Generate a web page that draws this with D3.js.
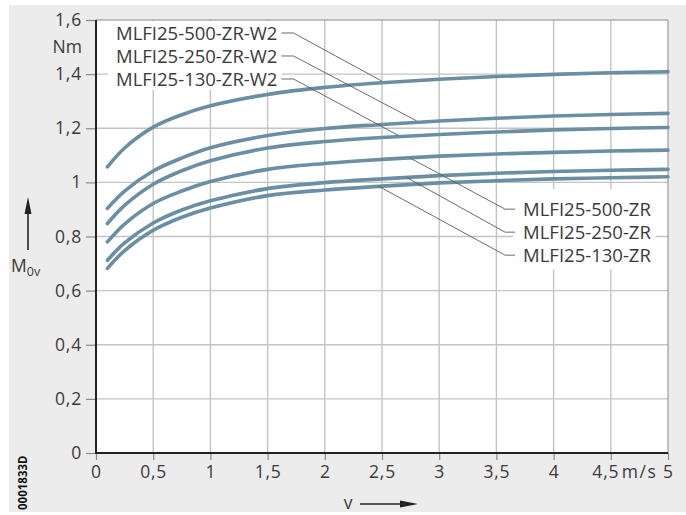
<!DOCTYPE html>
<html>
<head>
<meta charset="utf-8">
<script src="https://cdn.jsdelivr.net/npm/d3@7/dist/d3.min.js"></script>
<style>
  html, body { margin: 0; padding: 0; background: #ffffff; }
  svg { display: block; }
  text { font-family: "Open Sans", "Noto Sans", sans-serif; }
</style>
</head>
<body>
<svg id="chart" width="686" height="515"></svg>
<script>
// Speed values (m/s) at which each curve is sampled
const speeds = [0.1, 0.25, 0.5, 0.75, 1, 1.5, 2, 2.5, 3, 3.5, 4, 4.5, 5];

// No-load torque M0v (Nm) per drive variant
const m500W2 = [1.057, 1.127, 1.204, 1.250, 1.283, 1.325, 1.351, 1.368, 1.381, 1.391, 1.399, 1.405, 1.409];
const m250W2 = [0.904, 0.968, 1.042, 1.090, 1.128, 1.173, 1.199, 1.214, 1.227, 1.237, 1.245, 1.251, 1.255];
const m130W2 = [0.848, 0.915, 0.993, 1.043, 1.080, 1.127, 1.151, 1.166, 1.177, 1.186, 1.194, 1.199, 1.203];
const m500   = [0.780, 0.846, 0.922, 0.968, 1.003, 1.048, 1.070, 1.085, 1.097, 1.105, 1.111, 1.116, 1.119];
const m250   = [0.712, 0.776, 0.850, 0.898, 0.932, 0.977, 0.999, 1.013, 1.025, 1.034, 1.040, 1.045, 1.048];
const m130   = [0.682, 0.748, 0.823, 0.871, 0.905, 0.951, 0.972, 0.986, 0.998, 1.006, 1.013, 1.017, 1.021];

const seriesNames = ["MLFI25-500-ZR-W2", "MLFI25-250-ZR-W2", "MLFI25-130-ZR-W2",
                     "MLFI25-500-ZR", "MLFI25-250-ZR", "MLFI25-130-ZR"];
const seriesValues = [m500W2, m250W2, m130W2, m500, m250, m130];

// Axis ticks
const xTicks = [0, 0.5, 1, 1.5, 2, 2.5, 3, 3.5, 4, 4.5, 5];
const yTicks = [0, 0.2, 0.4, 0.6, 0.8, 1, 1.2, 1.4, 1.6];

// Label callouts: label anchor (v, M) and the point where the leader meets its curve
const upperLabelV = 0.175;
const upperLabelM = [1.552, 1.467, 1.382];
const upperTouch = [[2.50, 1.374], [2.80, 1.228], [2.64, 1.174]];
const lowerLabelV = 3.733;
const lowerLabelM = [0.901, 0.816, 0.731];
const lowerTouch = [[2.745, 1.090], [2.716, 1.018], [2.47, 0.986]];

const svg = d3.select("#chart");
const W = 686, H = 515;
const pLeft = 96, pRight = 668, pTop = 20, pBottom = 453;

const x = d3.scaleLinear().domain([0, 5]).range([pLeft, pRight]);
const y = d3.scaleLinear().domain([0, 1.6]).range([pBottom, pTop]);

const fmt = d => String(+d.toFixed(1)).replace(".", ",");

// Backgrounds
svg.append("rect").attr("x", 9).attr("y", 5).attr("width", W - 9).attr("height", 507).attr("fill", "#ececec");
svg.append("rect").attr("x", pLeft).attr("y", pTop).attr("width", pRight - pLeft).attr("height", pBottom - pTop).attr("fill", "#ffffff");

// Grid
const grid = svg.append("g").attr("stroke", "#c4c4c4").attr("stroke-width", 1.4);
grid.selectAll(".gx").data(xTicks.filter(v => v > 0 && v < 5)).join("line")
  .attr("x1", d => x(d)).attr("x2", d => x(d)).attr("y1", pTop).attr("y2", pBottom);
grid.selectAll(".gy").data(yTicks.filter(v => v > 0 && v < 1.6)).join("line")
  .attr("x1", pLeft).attr("x2", pRight).attr("y1", d => y(d)).attr("y2", d => y(d));

// Frame (top and right)
svg.append("path")
  .attr("d", `M${pLeft},${pTop}H${pRight}V${pBottom}`)
  .attr("fill", "none").attr("stroke", "#8a8a8a").attr("stroke-width", 1);

// Text style helpers
const labelFont = 18.5;
const tickFont = 17.5;
const textFill = "#3a3a3a";

// White knock-out boxes behind the callout labels
const plot = svg.append("g");
const upperBox = plot.append("rect").attr("fill", "#ffffff");
const lowerBox = plot.append("rect").attr("fill", "#ffffff");

// Curves
const line = d3.line()
  .x(d => x(d[0]))
  .y(d => y(d[1]))
  .curve(d3.curveCatmullRom.alpha(0.5));

plot.selectAll(".curve").data(seriesValues).join("path")
  .attr("class", "curve")
  .attr("d", vals => line(speeds.map((s, i) => [s, vals[i]])))
  .attr("fill", "none")
  .attr("stroke", "#6a8fa2")
  .attr("stroke-width", 3.6)
  .attr("stroke-linecap", "round");

// Callout labels
const upperTexts = svg.selectAll(".ul").data(seriesNames.slice(0, 3)).join("text")
  .attr("class", "ul")
  .attr("x", x(upperLabelV))
  .attr("y", (d, i) => y(upperLabelM[i]))
  .attr("dy", "0.36em")
  .attr("font-size", labelFont)
  .attr("fill", textFill)
  .text(d => d);

const lowerTexts = svg.selectAll(".ll").data(seriesNames.slice(3)).join("text")
  .attr("class", "ll")
  .attr("x", x(lowerLabelV))
  .attr("y", (d, i) => y(lowerLabelM[i]))
  .attr("dy", "0.36em")
  .attr("font-size", labelFont)
  .attr("fill", textFill)
  .text(d => d);

// Size the knock-out boxes from the label extents
let ux1 = Infinity, ux2 = -Infinity;
upperTexts.each(function () { const b = this.getBBox(); ux1 = Math.min(ux1, b.x); ux2 = Math.max(ux2, b.x + b.width); });
upperBox.attr("x", ux1 - 8).attr("y", pTop + 1).attr("width", ux2 - ux1 + 12).attr("height", y(upperLabelM[2]) + 11 - pTop - 1);
let lx1 = Infinity, lx2 = -Infinity;
lowerTexts.each(function () { const b = this.getBBox(); lx1 = Math.min(lx1, b.x); lx2 = Math.max(lx2, b.x + b.width); });
lowerBox.attr("x", lx1 - 10).attr("y", y(lowerLabelM[0]) - 20).attr("width", lx2 - lx1 + 14).attr("height", y(lowerLabelM[2]) - y(lowerLabelM[0]) + 34);

// Leader lines
const leaders = svg.append("g").attr("fill", "none").attr("stroke", "#5a5a5a").attr("stroke-width", 0.9);
upperTexts.each(function (d, i) {
  const ly = y(upperLabelM[i]);
  const xs = ux2 + 4;
  leaders.append("path").attr("d",
    `M${xs},${ly}H${xs + 12}L${x(upperTouch[i][0])},${y(upperTouch[i][1])}`);
});
lowerTexts.each(function (d, i) {
  const ly = y(lowerLabelM[i]);
  const xe = lx1 - 8;
  leaders.append("path").attr("d",
    `M${x(lowerTouch[i][0])},${y(lowerTouch[i][1])}L${xe - 10},${ly}H${xe}`);
});

// Y axis
const yAxis = svg.append("g")
  .attr("transform", `translate(${pLeft},0)`)
  .call(d3.axisLeft(y).tickValues(yTicks).tickFormat(fmt).tickSize(10).tickPadding(4));
yAxis.select(".domain").remove();
yAxis.selectAll(".tick line").attr("stroke", "#8a8a8a").attr("stroke-width", 1.2);
yAxis.selectAll(".tick text").attr("font-size", tickFont).attr("fill", textFill)
  .attr("font-family", "'Open Sans', sans-serif").attr("letter-spacing", 0.8);

// X axis
const xAxis = svg.append("g")
  .attr("transform", `translate(0,${pBottom})`)
  .call(d3.axisBottom(x).tickValues(xTicks).tickFormat(fmt).tickSize(7).tickPadding(6));
xAxis.select(".domain").remove();
xAxis.selectAll(".tick line").attr("stroke", "#8a8a8a").attr("stroke-width", 1.2);
xAxis.selectAll(".tick text").attr("font-size", tickFont).attr("fill", textFill)
  .attr("font-family", "'Open Sans', sans-serif").attr("letter-spacing", 0.8);
xAxis.selectAll(".tick text").filter(d => d === 4.5).attr("text-anchor", "end").attr("dx", 8);
xAxis.append("text")
  .attr("x", x(4.5) + 11).attr("y", 13).attr("dy", "0.71em")
  .attr("text-anchor", "start").attr("font-size", tickFont).attr("fill", textFill)
  .attr("letter-spacing", 1.6)
  .text("m/s");

// Axis lines (drawn on top)
svg.append("path")
  .attr("d", `M${pLeft},${pTop}V${pBottom}H${pRight}`)
  .attr("fill", "none").attr("stroke", "#222").attr("stroke-width", 2);

// Units and axis titles
svg.append("text").attr("x", 82).attr("y", y(1.5)).attr("dy", "0.36em")
  .attr("text-anchor", "end").attr("font-size", tickFont).attr("fill", textFill).text("Nm");

const arrowY = svg.append("g").attr("fill", "#222").attr("stroke", "#222");
arrowY.append("line").attr("x1", 28).attr("x2", 28).attr("y1", 250).attr("y2", 210).attr("stroke-width", 1.6);
arrowY.append("path").attr("d", "M28,197 L24.5,214 L31.5,214 Z").attr("stroke", "none");

const mLabel = svg.append("text").attr("x", 11).attr("y", 272)
  .attr("font-size", tickFont).attr("fill", textFill);
mLabel.append("tspan").text("M");
mLabel.append("tspan").attr("font-size", 12.5).attr("dy", 4).text("0v");

svg.append("text").attr("x", 348).attr("y", 504).attr("dy", "0.3em")
  .attr("text-anchor", "middle").attr("font-size", tickFont).attr("fill", textFill).text("v");
const arrowX = svg.append("g").attr("fill", "#222").attr("stroke", "#222");
arrowX.append("line").attr("x1", 360).attr("x2", 402).attr("y1", 504).attr("y2", 504).attr("stroke-width", 1.6);
arrowX.append("path").attr("d", "M418,504 L400,500.5 L400,507.5 Z").attr("stroke", "none");

// Drawing number
svg.append("text")
  .attr("transform", "translate(26.5,510) rotate(-90)")
  .attr("font-size", 11.5).attr("font-weight", "bold").attr("fill", "#111")
  .attr("font-family", "'DejaVu Sans', sans-serif")
  .text("0001833D");
</script>
</body>
</html>
